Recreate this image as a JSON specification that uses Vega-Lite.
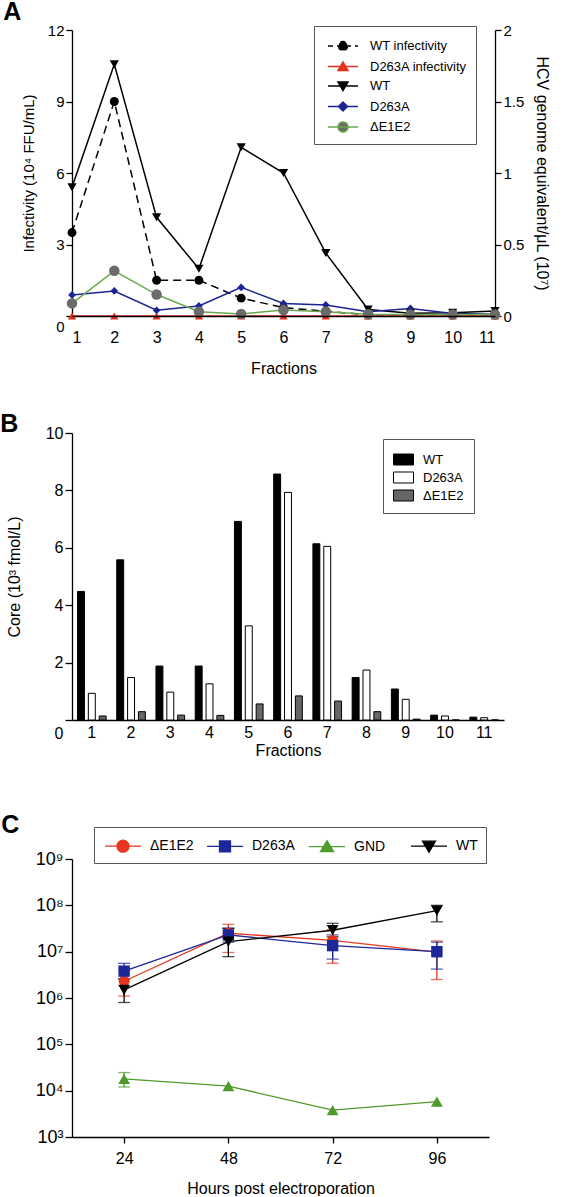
{
  "$schema": "https://vega.github.io/schema/vega-lite/v6.json",
  "padding": {"left": 0, "top": 0, "right": 0, "bottom": 0},
  "spacing": 36,
  "resolve": {"scale": {"fill": "independent", "stroke": "independent", "strokeDash": "independent", "shape": "independent"}, "legend": {"fill": "independent", "stroke": "independent", "strokeDash": "independent", "shape": "independent"}},
  "config": {
    "font": "Liberation Sans",
    "view": {"stroke": null},
    "axis": {"domainColor": "#000", "domainWidth": 1.3, "tickColor": "#000", "tickWidth": 1.3, "tickSize": 6, "labelColor": "#000", "titleColor": "#000", "labelFont": "Liberation Sans", "titleFont": "Liberation Sans", "titleFontWeight": "normal", "grid": false, "labelFontSize": 15, "titleFontSize": 15, "labelPadding": 2},
    "legend": {"labelFont": "Liberation Sans", "labelColor": "#000", "strokeColor": "#555", "fillColor": "#fff"},
    "title": {"font": "Liberation Sans", "fontSize": 25, "fontWeight": "bold", "anchor": "start", "frame": "bounds", "color": "#000"}
  },
  "datasets": {
    "A": [
      {"f": 1, "s": "WT infectivity", "v": 3.5}, {"f": 2, "s": "WT infectivity", "v": 9.0}, {"f": 3, "s": "WT infectivity", "v": 1.5}, {"f": 4, "s": "WT infectivity", "v": 1.5}, {"f": 5, "s": "WT infectivity", "v": 0.75}, {"f": 6, "s": "WT infectivity", "v": 0.35}, {"f": 7, "s": "WT infectivity", "v": 0.2}, {"f": 8, "s": "WT infectivity", "v": 0.05}, {"f": 9, "s": "WT infectivity", "v": 0.05}, {"f": 10, "s": "WT infectivity", "v": 0.05}, {"f": 11, "s": "WT infectivity", "v": 0.05},
      {"f": 1, "s": "D263A infectivity", "v": 0}, {"f": 2, "s": "D263A infectivity", "v": 0}, {"f": 3, "s": "D263A infectivity", "v": 0}, {"f": 4, "s": "D263A infectivity", "v": 0}, {"f": 5, "s": "D263A infectivity", "v": 0}, {"f": 6, "s": "D263A infectivity", "v": 0}, {"f": 7, "s": "D263A infectivity", "v": 0}, {"f": 8, "s": "D263A infectivity", "v": 0}, {"f": 9, "s": "D263A infectivity", "v": 0}, {"f": 10, "s": "D263A infectivity", "v": 0}, {"f": 11, "s": "D263A infectivity", "v": 0},
      {"f": 1, "s": "WT", "v": 0.9}, {"f": 2, "s": "WT", "v": 1.76}, {"f": 3, "s": "WT", "v": 0.69}, {"f": 4, "s": "WT", "v": 0.33}, {"f": 5, "s": "WT", "v": 1.18}, {"f": 6, "s": "WT", "v": 1.0}, {"f": 7, "s": "WT", "v": 0.44}, {"f": 8, "s": "WT", "v": 0.045}, {"f": 9, "s": "WT", "v": 0.02}, {"f": 10, "s": "WT", "v": 0.023}, {"f": 11, "s": "WT", "v": 0.035},
      {"f": 1, "s": "D263A", "v": 0.147}, {"f": 2, "s": "D263A", "v": 0.175}, {"f": 3, "s": "D263A", "v": 0.04}, {"f": 4, "s": "D263A", "v": 0.07}, {"f": 5, "s": "D263A", "v": 0.2}, {"f": 6, "s": "D263A", "v": 0.088}, {"f": 7, "s": "D263A", "v": 0.077}, {"f": 8, "s": "D263A", "v": 0.03}, {"f": 9, "s": "D263A", "v": 0.053}, {"f": 10, "s": "D263A", "v": 0.018}, {"f": 11, "s": "D263A", "v": 0.012},
      {"f": 1, "s": "ΔE1E2", "v": 0.088}, {"f": 2, "s": "ΔE1E2", "v": 0.316}, {"f": 3, "s": "ΔE1E2", "v": 0.15}, {"f": 4, "s": "ΔE1E2", "v": 0.03}, {"f": 5, "s": "ΔE1E2", "v": 0.014}, {"f": 6, "s": "ΔE1E2", "v": 0.042}, {"f": 7, "s": "ΔE1E2", "v": 0.03}, {"f": 8, "s": "ΔE1E2", "v": 0.012}, {"f": 9, "s": "ΔE1E2", "v": 0.01}, {"f": 10, "s": "ΔE1E2", "v": 0.01}, {"f": 11, "s": "ΔE1E2", "v": 0.01}
    ],
    "B": [
      {"f": 1, "s": "WT", "v": 4.48}, {"f": 2, "s": "WT", "v": 5.58}, {"f": 3, "s": "WT", "v": 1.88}, {"f": 4, "s": "WT", "v": 1.88}, {"f": 5, "s": "WT", "v": 6.92}, {"f": 6, "s": "WT", "v": 8.57}, {"f": 7, "s": "WT", "v": 6.14}, {"f": 8, "s": "WT", "v": 1.48}, {"f": 9, "s": "WT", "v": 1.08}, {"f": 10, "s": "WT", "v": 0.17}, {"f": 11, "s": "WT", "v": 0.1},
      {"f": 1, "s": "D263A", "v": 0.93}, {"f": 2, "s": "D263A", "v": 1.48}, {"f": 3, "s": "D263A", "v": 0.97}, {"f": 4, "s": "D263A", "v": 1.26}, {"f": 5, "s": "D263A", "v": 3.28}, {"f": 6, "s": "D263A", "v": 7.93}, {"f": 7, "s": "D263A", "v": 6.05}, {"f": 8, "s": "D263A", "v": 1.74}, {"f": 9, "s": "D263A", "v": 0.72}, {"f": 10, "s": "D263A", "v": 0.14}, {"f": 11, "s": "D263A", "v": 0.08},
      {"f": 1, "s": "ΔE1E2", "v": 0.14}, {"f": 2, "s": "ΔE1E2", "v": 0.29}, {"f": 3, "s": "ΔE1E2", "v": 0.17}, {"f": 4, "s": "ΔE1E2", "v": 0.16}, {"f": 5, "s": "ΔE1E2", "v": 0.56}, {"f": 6, "s": "ΔE1E2", "v": 0.84}, {"f": 7, "s": "ΔE1E2", "v": 0.66}, {"f": 8, "s": "ΔE1E2", "v": 0.29}, {"f": 9, "s": "ΔE1E2", "v": 0.03}, {"f": 10, "s": "ΔE1E2", "v": 0}, {"f": 11, "s": "ΔE1E2", "v": 0}
    ],
    "C": [
      {"h": 24, "s": "ΔE1E2", "v": 2300000, "lo": 1100000, "hi": 4000000}, {"h": 48, "s": "ΔE1E2", "v": 25000000, "lo": 9600000, "hi": 39000000}, {"h": 72, "s": "ΔE1E2", "v": 17500000, "lo": 5600000, "hi": 30000000}, {"h": 96, "s": "ΔE1E2", "v": 9800000, "lo": 2500000, "hi": 17000000},
      {"h": 24, "s": "D263A", "v": 3800000, "lo": 2600000, "hi": 5600000}, {"h": 48, "s": "D263A", "v": 23000000, "lo": 16000000, "hi": 32000000}, {"h": 72, "s": "D263A", "v": 13500000, "lo": 6900000, "hi": 23000000}, {"h": 96, "s": "D263A", "v": 10000000, "lo": 4200000, "hi": 16000000},
      {"h": 24, "s": "GND", "v": 18000, "lo": 12000, "hi": 24600}, {"h": 48, "s": "GND", "v": 12500}, {"h": 72, "s": "GND", "v": 3800}, {"h": 96, "s": "GND", "v": 5800},
      {"h": 24, "s": "WT", "v": 1500000, "lo": 800000, "hi": 2600000}, {"h": 48, "s": "WT", "v": 16500000, "lo": 7800000, "hi": 32000000}, {"h": 72, "s": "WT", "v": 29000000, "lo": 21000000, "hi": 41000000}, {"h": 96, "s": "WT", "v": 77000000, "lo": 44000000, "hi": 100000000}
    ]
  },
  "vconcat": [
    {
      "width": 423,
      "height": 286,
      "title": {"text": "A", "dx": -18, "offset": -2},
      "data": {"name": "A"},
      "encoding": {
        "x": {"field": "f", "type": "quantitative", "scale": {"domain": [1, 11], "nice": false}, "axis": {"values": [1, 2, 3, 4, 5, 6, 7, 8, 9, 10, 11], "title": "Fractions", "ticks": false, "labelPadding": 13, "titlePadding": 15, "labelFontSize": 16, "titleFontSize": 16, "zindex": 1}}
      },
      "layer": [
        {
          "encoding": {
            "y": {"field": "v", "type": "quantitative", "scale": {"domain": [0, 12], "nice": false}, "axis": {"values": [0, 3, 6, 9, 12], "title": "Infectivity (10⁴ FFU/mL)", "titlePadding": 11, "labelOffset": {"condition": {"test": "datum.value === 0", "value": 10}, "value": 0}}}
          },
          "layer": [
            {"transform": [{"filter": "datum.s === 'WT infectivity'"}], "mark": {"type": "line", "stroke": "#000", "strokeWidth": 1.5, "strokeDash": [8, 5]}},
            {"transform": [{"filter": "datum.s === 'WT infectivity'"}], "mark": {"type": "point", "shape": "circle", "filled": true, "color": "#000", "opacity": 1, "size": 80}},
            {"transform": [{"filter": "datum.s === 'D263A infectivity'"}], "mark": {"type": "line", "stroke": "#e3321b", "strokeWidth": 1.5}},
            {"transform": [{"filter": "datum.s === 'D263A infectivity'"}], "mark": {"type": "point", "shape": "triangle-up", "filled": true, "color": "#e3321b", "opacity": 1, "size": 70}},
            {
              "mark": {"type": "point", "filled": true, "opacity": 0},
              "encoding": {
                "fill": {"field": "s", "type": "nominal", "scale": {"domain": ["WT infectivity", "D263A infectivity", "WT", "D263A", "ΔE1E2"], "range": ["#000", "#e3321b", "#000", "#1a2595", "#6b6b6b"]},
                  "legend": {"title": null, "orient": "none", "legendX": 242, "legendY": -4, "symbolSize": 400, "symbolStrokeWidth": 1.5, "symbolOpacity": 1, "symbolOffset": 9, "labelFontSize": 13, "labelOffset": 16, "rowPadding": 1.5, "padding": 9, "encode": {"symbols": {"update": {"opacity": {"value": 1}}}}}},
                "stroke": {"field": "s", "type": "nominal", "scale": {"domain": ["WT infectivity", "D263A infectivity", "WT", "D263A", "ΔE1E2"], "range": ["#000", "#e3321b", "#000", "#1a2595", "#6aa84f"]}},
                "strokeDash": {"field": "s", "type": "nominal", "scale": {"domain": ["WT infectivity", "D263A infectivity", "WT", "D263A", "ΔE1E2"], "range": [[5, 4], [1, 0], [1, 0], [1, 0], [1, 0]]}},
                "shape": {"field": "s", "type": "nominal", "scale": {"domain": ["WT infectivity", "D263A infectivity", "WT", "D263A", "ΔE1E2"], "range": ["M-1.5,0H1.5M0.45,0A0.45,0.45,0,1,1,-0.45,0A0.45,0.45,0,1,1,0.45,0Z", "M-1.5,0H1.5M0,-0.45L0.5,0.4L-0.5,0.4Z", "M-1.5,0H1.5M0,0.45L0.5,-0.4L-0.5,-0.4Z", "M-1.5,0H1.5M0,-0.45L0.45,0L0,0.45L-0.45,0Z", "M-1.5,0H1.5M0.5,0A0.5,0.5,0,1,1,-0.5,0A0.5,0.5,0,1,1,0.5,0Z"]}}
              }
            }
          ]
        },
        {
          "encoding": {
            "y": {"field": "v", "type": "quantitative", "scale": {"domain": [0, 2], "nice": false}, "axis": {"orient": "right", "values": [0, 0.5, 1, 1.5, 2], "format": "~g", "title": "HCV genome equivalent/μL (10⁷)", "titlePadding": 10, "titleFontSize": 16}}
          },
          "layer": [
            {"transform": [{"filter": "datum.s === 'WT'"}], "mark": {"type": "line", "stroke": "#000", "strokeWidth": 1.5}},
            {"transform": [{"filter": "datum.s === 'D263A'"}], "mark": {"type": "line", "stroke": "#1a2595", "strokeWidth": 1.5}},
            {"transform": [{"filter": "datum.s === 'ΔE1E2'"}], "mark": {"type": "line", "stroke": "#6aa84f", "strokeWidth": 1.5}},
            {"transform": [{"filter": "datum.s === 'D263A'"}], "mark": {"type": "point", "shape": "diamond", "filled": true, "color": "#1a2595", "opacity": 1, "size": 60}},
            {"transform": [{"filter": "datum.s === 'WT'"}], "mark": {"type": "point", "shape": "triangle-down", "filled": true, "color": "#000", "opacity": 1, "size": 85}},
            {"transform": [{"filter": "datum.s === 'ΔE1E2'"}], "mark": {"type": "point", "shape": "circle", "filled": true, "color": "#6b6b6b", "opacity": 1, "size": 110}}
          ]
        }
      ],
      "resolve": {"scale": {"y": "independent"}}
    },
    {
      "width": 432,
      "height": 287,
      "title": {"text": "B", "dx": -6, "offset": -12},
      "data": {"name": "B"},
      "mark": {"type": "bar", "stroke": "#000", "strokeWidth": 1},
      "encoding": {
        "x": {"field": "f", "type": "ordinal", "scale": {"paddingInner": 0.27, "paddingOuter": 0.14}, "axis": {"labelAngle": 0, "title": "Fractions", "ticks": false, "labelPadding": 4, "titlePadding": 2, "labelFontSize": 16, "titleFontSize": 16}},
        "xOffset": {"field": "s", "type": "nominal", "scale": {"domain": ["WT", "D263A", "ΔE1E2"], "paddingInner": 0.36}},
        "y": {"field": "v", "type": "quantitative", "scale": {"domain": [0, 10], "nice": false}, "axis": {"values": [0, 2, 4, 6, 8, 10], "title": "Core (10³ fmol/L)", "tickSize": 7, "titlePadding": 23, "labelFontSize": 16, "titleFontSize": 16, "labelOffset": {"condition": {"test": "datum.value === 0", "value": 13}, "value": 0}}},
        "fill": {"field": "s", "type": "nominal", "scale": {"domain": ["WT", "D263A", "ΔE1E2"], "range": ["#000", "#fff", "#666666"]},
          "legend": {"title": null, "orient": "none", "legendX": 311, "legendY": 6, "symbolType": "M-1,-0.55H1V0.55H-1Z", "symbolSize": 400, "symbolStrokeWidth": 1, "symbolStrokeColor": "#000", "labelFontSize": 13, "labelOffset": 9, "rowPadding": 0, "padding": 10, "encode": {"symbols": {"update": {"stroke": {"value": "#000"}, "strokeWidth": {"value": 1}}}}}}
      }
    },
    {
      "width": 417,
      "height": 278,
      "title": {"text": ["", "C"], "lineHeight": 18, "dx": -34, "offset": -11},
      "data": {"name": "C"},
      "encoding": {
        "x": {"field": "h", "type": "quantitative", "scale": {"domain": [12, 108], "nice": false}, "axis": {"values": [24, 48, 72, 96], "title": "Hours post electroporation", "labelPadding": 7, "titlePadding": 14, "labelFontSize": 16, "titleFontSize": 16}}
      },
      "layer": [
        {"transform": [{"filter": "isValid(datum.lo)"}, {"filter": "datum.s === 'ΔE1E2'"}], "mark": {"type": "errorbar", "ticks": {"size": 12, "thickness": 1.3}, "rule": {"strokeWidth": 1.3}, "color": "#e8361e"}, "encoding": {"y": {"field": "lo", "type": "quantitative", "scale": {"type": "log", "domain": [1000, 1000000000]}, "title": null}, "y2": {"field": "hi"}}},
        {"transform": [{"filter": "isValid(datum.lo)"}, {"filter": "datum.s === 'D263A'"}], "mark": {"type": "errorbar", "ticks": {"size": 12, "thickness": 1.3}, "rule": {"strokeWidth": 1.3}, "color": "#1c2799"}, "encoding": {"y": {"field": "lo", "type": "quantitative"}, "y2": {"field": "hi"}}},
        {"transform": [{"filter": "isValid(datum.lo)"}, {"filter": "datum.s === 'GND'"}], "mark": {"type": "errorbar", "ticks": {"size": 12, "thickness": 1.3}, "rule": {"strokeWidth": 1.3}, "color": "#4e9a2b"}, "encoding": {"y": {"field": "lo", "type": "quantitative"}, "y2": {"field": "hi"}}},
        {"transform": [{"filter": "isValid(datum.lo)"}, {"filter": "datum.s === 'WT'"}], "mark": {"type": "errorbar", "ticks": {"size": 12, "thickness": 1.3}, "rule": {"strokeWidth": 1.3}, "color": "#000"}, "encoding": {"y": {"field": "lo", "type": "quantitative"}, "y2": {"field": "hi"}}},
        {
          "encoding": {
            "y": {"field": "v", "type": "quantitative", "scale": {"type": "log", "domain": [1000, 1000000000]}, "axis": {"values": [1000, 10000, 100000, 1000000, 10000000, 100000000, 1000000000], "labelExpr": "'10' + ['⁰','¹','²','³','⁴','⁵','⁶','⁷','⁸','⁹'][round(log(datum.value) / LN10)]", "title": "HCV genome equivalent/μL", "titlePadding": 37, "labelFontSize": 18, "titleFontSize": 16, "tickSize": 7}}
          },
          "layer": [
            {"transform": [{"filter": "datum.s === 'ΔE1E2'"}], "mark": {"type": "line", "stroke": "#e8361e", "strokeWidth": 1.3}},
            {"transform": [{"filter": "datum.s === 'D263A'"}], "mark": {"type": "line", "stroke": "#1c2799", "strokeWidth": 1.3}},
            {"transform": [{"filter": "datum.s === 'GND'"}], "mark": {"type": "line", "stroke": "#4e9a2b", "strokeWidth": 1.3}},
            {"transform": [{"filter": "datum.s === 'WT'"}], "mark": {"type": "line", "stroke": "#000", "strokeWidth": 1.3}},
            {"transform": [{"filter": "datum.s === 'ΔE1E2'"}], "mark": {"type": "point", "shape": "circle", "filled": true, "color": "#e8361e", "opacity": 1, "size": 120}},
            {"transform": [{"filter": "datum.s === 'D263A'"}], "mark": {"type": "point", "shape": "square", "filled": true, "color": "#1c2799", "opacity": 1, "size": 130}},
            {"transform": [{"filter": "datum.s === 'GND'"}], "mark": {"type": "point", "shape": "triangle-up", "filled": true, "color": "#4e9a2b", "opacity": 1, "size": 140}},
            {"transform": [{"filter": "datum.s === 'WT'"}], "mark": {"type": "point", "shape": "triangle-down", "filled": true, "color": "#000", "opacity": 1, "size": 140}},
            {
              "mark": {"type": "point", "filled": true, "opacity": 0},
              "encoding": {
                "fill": {"field": "s", "type": "nominal", "scale": {"domain": ["ΔE1E2", "D263A", "GND", "WT"], "range": ["#e8361e", "#1c2799", "#4e9a2b", "#000"]},
                  "legend": {"title": null, "orient": "none", "legendX": 22, "legendY": -32, "direction": "horizontal", "columns": 4, "columnPadding": 10, "gridAlign": "all", "symbolSize": 400, "symbolStrokeWidth": 1.3, "symbolOpacity": 1, "symbolOffset": 10, "labelFontSize": 14, "labelOffset": 16, "padding": 8, "encode": {"symbols": {"update": {"opacity": {"value": 1}}}}}},
                "stroke": {"field": "s", "type": "nominal", "scale": {"domain": ["ΔE1E2", "D263A", "GND", "WT"], "range": ["#e8361e", "#1c2799", "#4e9a2b", "#000"]}},
                "shape": {"field": "s", "type": "nominal", "scale": {"domain": ["ΔE1E2", "D263A", "GND", "WT"], "range": ["M-1.8,0H1.8M0.6,0A0.6,0.6,0,1,1,-0.6,0A0.6,0.6,0,1,1,0.6,0Z", "M-1.8,0H1.8M-0.55,-0.55H0.55V0.55H-0.55Z", "M-1.8,0H1.8M0,-0.6L0.65,0.5L-0.65,0.5Z", "M-1.8,0H1.8M0,0.6L0.65,-0.5L-0.65,-0.5Z"]}}
              }
            }
          ]
        }
      ]
    }
  ]
}
